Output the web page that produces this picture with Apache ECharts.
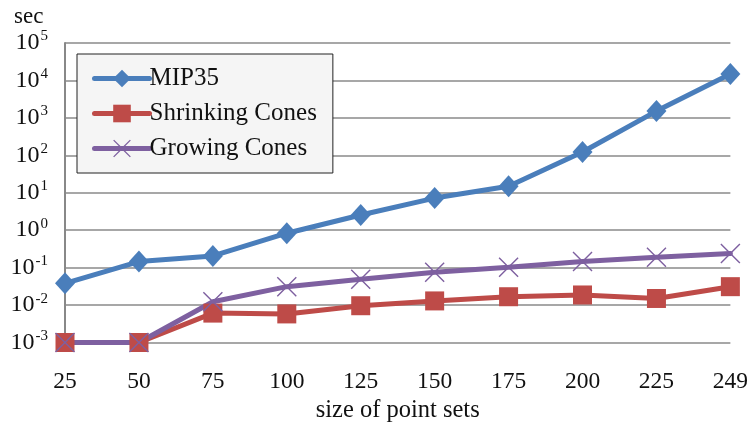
<!DOCTYPE html>
<html>
<head>
<meta charset="utf-8">
<script src="https://cdn.jsdelivr.net/npm/echarts@6/dist/echarts.min.js"></script>
<style>
html,body{margin:0;padding:0;background:#fff;}
#c{width:751px;height:429px;}
</style>
</head>
<body>
<div id="c"></div>
<script>
var categories = ['25','50','75','100','125','150','175','200','225','249'];
var mip35 = [0.038, 0.145, 0.205, 0.83, 2.55, 7.2, 15, 123, 1520, 14800];
var shrinkingCones = [0.001, 0.001, 0.0061, 0.0058, 0.0096, 0.0129, 0.0167, 0.0186, 0.015, 0.031];
var growingCones = [0.001, 0.001, 0.0123, 0.031, 0.049, 0.075, 0.102, 0.145, 0.19, 0.24];
var seriesNames = ['MIP35', 'Shrinking Cones', 'Growing Cones'];
var yUnit = 'sec';
var xName = 'size of point sets';

var FONT = '"Liberation Serif", "DejaVu Serif", serif';
var colors = ['#4A7EBB', '#BE4B48', '#7E60A0'];
var crossPath = 'path://M1,0L10,9L19,0L20,1L11,10L20,19L19,20L10,11L1,20L0,19L9,10L0,1Z';

var chart = echarts.init(document.getElementById('c'), null, {renderer: 'canvas'});
chart.setOption({
  animation: false,
  backgroundColor: '#ffffff',
  color: colors,
  title: {
    text: yUnit,
    left: 9,
    top: 0,
    textStyle: {fontFamily: FONT, fontSize: 23, fontWeight: 'normal', color: '#111'}
  },
  grid: {left: 65, right: 17, top: 43, bottom: 86.5, containLabel: false},
  legend: {
    orient: 'vertical',
    left: 77,
    top: 54,
    padding: [12, 16, 12, 15],
    itemGap: 10,
    itemWidth: 55,
    itemHeight: 22,
    backgroundColor: '#f5f5f5',
    borderColor: '#222',
    borderWidth: 1,
    borderRadius: 0,
    lineStyle: {width: 5, cap: 'round'},
    textStyle: {fontFamily: FONT, fontSize: 25, color: '#111', padding: [0,0,0,-5]},
    data: seriesNames
  },
  xAxis: {
    type: 'category',
    data: categories,
    boundaryGap: false,
    name: xName,
    nameLocation: 'middle',
    nameGap: 56,
    nameTextStyle: {fontFamily: FONT, fontSize: 24.5, color: '#111'},
    axisLine: {show: false},
    axisTick: {show: false},
    axisLabel: {fontFamily: FONT, fontSize: 23.5, color: '#111', margin: 27},
    splitLine: {show: false}
  },
  yAxis: {
    type: 'log',
    logBase: 10,
    min: 0.001,
    max: 100000,
    axisLine: {show: true, lineStyle: {color: '#888', width: 2}},
    axisTick: {show: false},
    splitLine: {show: true, lineStyle: {color: '#8a8a8a', width: 1.6}},
    axisLabel: {
      margin: 17,
      formatter: function (v) {
        var e = Math.round(Math.log(v) / Math.LN10);
        return '{b|10}{s|' + e + '}';
      },
      rich: {
        b: {fontFamily: FONT, fontSize: 24, color: '#111'},
        s: {fontFamily: FONT, fontSize: 15, color: '#111', padding: [0, 0, 13, 1]}
      }
    }
  },
  series: [
    {
      name: seriesNames[0], type: 'line', data: mip35,
      symbol: 'diamond', symbolSize: [20, 22],
      lineStyle: {width: 5, color: colors[0], cap: 'round'},
      itemStyle: {color: colors[0]}
    },
    {
      name: seriesNames[1], type: 'line', data: shrinkingCones,
      symbol: 'rect', symbolSize: 19,
      lineStyle: {width: 5, color: colors[1], cap: 'round'},
      itemStyle: {color: colors[1]}
    },
    {
      name: seriesNames[2], type: 'line', data: growingCones,
      symbol: crossPath, symbolSize: 20,
      lineStyle: {width: 5, color: colors[2], cap: 'round'},
      itemStyle: {color: colors[2]}
    }
  ]
});
</script>
</body>
</html>
